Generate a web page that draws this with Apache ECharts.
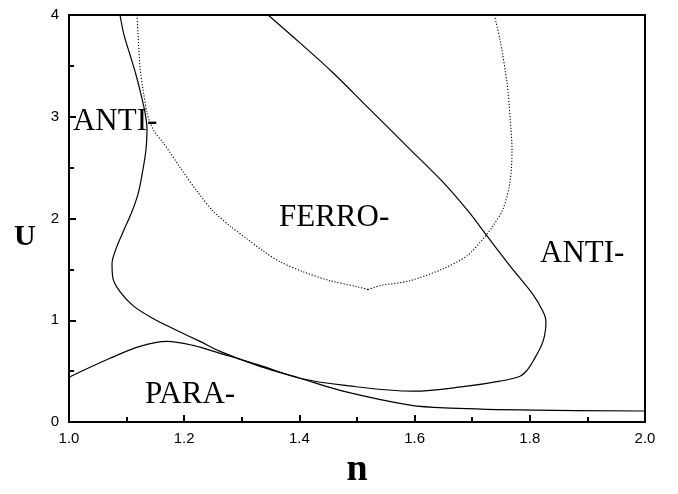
<!DOCTYPE html>
<html>
<head>
<meta charset="utf-8">
<script src="https://cdn.jsdelivr.net/npm/echarts@6/dist/echarts.min.js"></script>
<style>html,body{margin:0;padding:0;background:#fff;}#c{width:678px;height:494px;}</style>
</head>
<body>
<div id="c"></div>
<script>
// Curve A (solid): left AFM boundary descending into the low-U tail
const curveA_n = [1.0885,1.0955,1.1059,1.1163,1.1250,1.1319,1.1354,1.1337,1.1285,1.1198,1.1076,1.0938,1.0816,1.0747,1.0764,1.0885,1.1111,1.1458,1.1875,1.2274,1.2622,1.3316,1.4010,1.4757,1.5920,1.6615,1.8056,2.0];
const curveA_U = [4.000,3.804,3.609,3.413,3.218,3.042,2.875,2.680,2.484,2.240,2.044,1.868,1.702,1.555,1.408,1.281,1.144,1.017,0.900,0.792,0.694,0.547,0.430,0.303,0.166,0.137,0.117,0.108];
// Curve B (solid): PARA hump and closed boundary to the right
const curveB_n = [1.0,1.0712,1.1233,1.170,1.2153,1.2622,1.3316,1.401,1.4757,1.5972,1.691,1.748,1.783,1.7951,1.8056,1.8229,1.828,1.8229,1.8056,1.7656,1.7257,1.6927,1.6493,1.5920,1.5174,1.4583,1.401,1.3455];
const curveB_U = [0.440,0.626,0.743,0.792,0.753,0.675,0.557,0.430,0.362,0.303,0.352,0.401,0.450,0.508,0.597,0.792,0.988,1.086,1.252,1.535,1.829,2.074,2.357,2.680,3.100,3.433,3.726,4.0];
// Dotted curve: FERRO region boundary (left branch and right branch meeting at the minimum)
const ferroL_n = [1.118,1.1198,1.1233,1.1285,1.1354,1.1406,1.1493,1.1632,1.1927,1.2222,1.25,1.2795,1.309,1.3368,1.3663,1.4063,1.4531,1.5,1.5191];
const ferroL_U = [4.0,3.824,3.491,3.267,3.042,2.944,2.846,2.748,2.504,2.269,2.074,1.927,1.800,1.682,1.575,1.477,1.389,1.330,1.301];
const ferroR_n = [1.5191,1.5399,1.592,1.6493,1.691,1.7188,1.7361,1.7535,1.7656,1.7691,1.7656,1.7604,1.7483,1.7396];
const ferroR_U = [1.301,1.340,1.389,1.506,1.633,1.800,1.927,2.093,2.357,2.680,3.002,3.335,3.756,3.971];
// Region labels
const regionText = ['ANTI-','FERRO-','ANTI-','PARA-'];
const regionN = [1.0069,1.3646,1.8177,1.1319];
const regionU = [2.945,2.010,1.650,0.268];
// Axis ticks
const xTicks = [1.0,1.2,1.4,1.6,1.8,2.0];
const yTicks = [0,1,2,3,4];

const zip = (a,b) => a.map((v,i)=>[v,b[i]]);
const chart = echarts.init(document.getElementById('c'));
const lineBase = {type:'line', showSymbol:false, symbol:'none', animation:false, silent:true};
const dotted = {color:'#000', width:1.1, type:[1.2,1.8]};
chart.setOption({
  backgroundColor:'#fff',
  animation:false,
  grid:{left:69, right:33, top:15, bottom:70, show:true, borderColor:'#000', borderWidth:2, backgroundColor:'transparent'},
  graphic:[{type:'text', left:14, top:222, style:{text:'U', fontFamily:'Liberation Serif', fontWeight:'bold', fontSize:30, fill:'#000'}}],
  xAxis:{
    type:'value', min:xTicks[0], max:xTicks[xTicks.length-1], interval:0.2,
    name:'n', nameLocation:'middle', nameGap:29,
    nameTextStyle:{fontFamily:'Liberation Serif', fontWeight:'bold', fontSize:38, color:'#000'},
    axisLine:{show:true, lineStyle:{color:'#000', width:2}},
    axisTick:{show:true, inside:true, length:7, lineStyle:{color:'#000', width:2}},
    minorTick:{show:true, splitNumber:2, length:5, lineStyle:{color:'#000', width:2}},
    splitLine:{show:false},
    axisLabel:{margin:9, fontFamily:'Liberation Sans', fontSize:15, color:'#000', formatter:v=>v.toFixed(1)}
  },
  yAxis:{
    type:'value', min:yTicks[0], max:yTicks[yTicks.length-1], interval:1,
    axisLine:{show:true, lineStyle:{color:'#000', width:2}},
    axisTick:{show:true, inside:true, length:7, lineStyle:{color:'#000', width:2}},
    minorTick:{show:true, splitNumber:2, length:5, lineStyle:{color:'#000', width:2}},
    splitLine:{show:false},
    axisLabel:{margin:10, fontFamily:'Liberation Sans', fontSize:15, color:'#000'}
  },
  series:[
    Object.assign({}, lineBase, {data:zip(curveA_n,curveA_U), smooth:0.35, lineStyle:{color:'#000', width:1.2}}),
    Object.assign({}, lineBase, {data:zip(curveB_n,curveB_U), smooth:0.35, lineStyle:{color:'#000', width:1.2}}),
    Object.assign({}, lineBase, {data:zip(ferroL_n,ferroL_U), smooth:0.3, lineStyle:dotted}),
    Object.assign({}, lineBase, {data:zip(ferroR_n,ferroR_U), smooth:0.3, lineStyle:dotted}),
    {
      type:'scatter', symbolSize:0, silent:true, animation:false,
      itemStyle:{opacity:1},
      data: regionText.map((t,i)=>({value:[regionN[i],regionU[i]], name:t})),
      label:{show:true, position:[0,0], align:'left', verticalAlign:'middle', formatter:p=>p.name,
        fontFamily:'Liberation Serif', fontSize:31, color:'#000', opacity:1}
    }
  ]
});
</script>
</body>
</html>
